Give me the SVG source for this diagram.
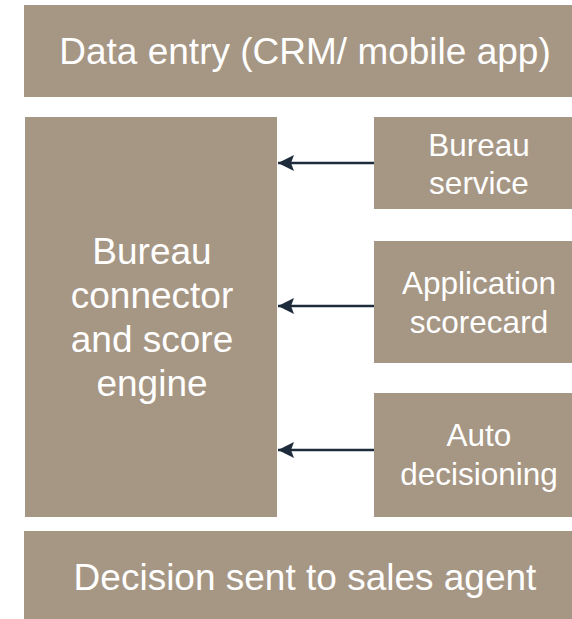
<svg xmlns="http://www.w3.org/2000/svg" width="572" height="619" viewBox="0 0 572 619">
  <style>
    .box { fill: #a69684; }
    .big { font-family: "Liberation Sans", Arial, sans-serif; font-size: 37px; fill: #ffffff; text-anchor: middle; }
    .small { font-family: "Liberation Sans", Arial, sans-serif; font-size: 31.5px; fill: #ffffff; text-anchor: middle; }
    .link { stroke: #1e2b3a; stroke-width: 2.5; fill: none; }
  </style>
  <defs>
    <marker id="head" markerUnits="userSpaceOnUse" markerWidth="18" markerHeight="18" refX="16" refY="8" orient="auto">
      <path d="M0,0 L16,8 L0,16 L3,8 Z" fill="#1e2b3a"/>
    </marker>
  </defs>
  <rect width="572" height="619" fill="#ffffff"/>

  <g id="data-entry">
    <rect class="box" x="24" y="5" width="562" height="92"/>
    <text class="big" x="305" y="64">Data entry (CRM/ mobile app)</text>
  </g>

  <g id="score-engine">
    <rect class="box" x="25" y="117" width="252" height="400"/>
    <text class="big" x="152" y="264">Bureau</text>
    <text class="big" x="152" y="308">connector</text>
    <text class="big" x="152" y="352">and score</text>
    <text class="big" x="152" y="396">engine</text>
  </g>

  <g id="bureau-service">
    <rect class="box" x="374" y="117" width="212" height="92"/>
    <text class="small" x="479" y="156">Bureau</text>
    <text class="small" x="479" y="194">service</text>
  </g>

  <g id="application-scorecard">
    <rect class="box" x="374" y="241" width="212" height="122"/>
    <text class="small" x="479" y="294">Application</text>
    <text class="small" x="479" y="333">scorecard</text>
  </g>

  <g id="auto-decisioning">
    <rect class="box" x="374" y="393" width="212" height="124"/>
    <text class="small" x="479" y="446">Auto</text>
    <text class="small" x="479" y="485">decisioning</text>
  </g>

  <g id="decision-sent">
    <rect class="box" x="24" y="531" width="562" height="95"/>
    <text class="big" x="305" y="590">Decision sent to sales agent</text>
  </g>

  <g id="connectors">
    <line class="link" x1="374" y1="163" x2="278" y2="163" marker-end="url(#head)"/>
    <line class="link" x1="374" y1="306" x2="278" y2="306" marker-end="url(#head)"/>
    <line class="link" x1="374" y1="450" x2="278" y2="450" marker-end="url(#head)"/>
  </g>
</svg>
